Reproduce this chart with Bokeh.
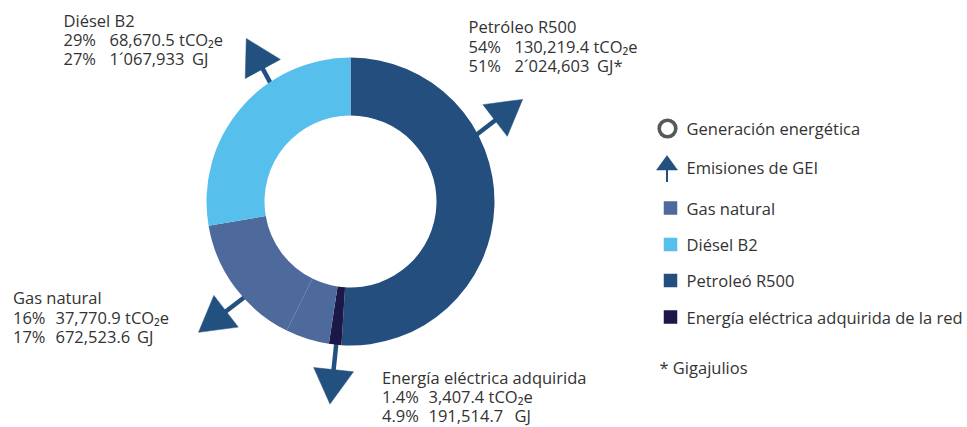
import math
from bokeh.plotting import figure
from bokeh.models import Range1d
from bokeh.core.properties import value
from bokeh.embed import file_html
from bokeh.resources import INLINE

# ---------------- data ----------------
ring_names = ["Petróleo R500", "Energía eléctrica adquirida de la red",
              "Energía eléctrica adquirida (resto)", "Gas natural", "Diésel B2"]
ring_share = [51.0, 1.4, 4.9, 15.0, 27.7]          # % of energy (GJ) around the ring
ring_colors = ["#234e7e", "#1b1848", "#4e699b", "#4e699b", "#56bfec"]

label_names = ["Diésel B2", "Petróleo R500", "Gas natural", "Energía eléctrica adquirida"]
pct_co2 = ["29%", "54%", "16%", "1.4%"]
val_co2 = ["68,670.5", "130,219.4", "37,770.9", "3,407.4"]
pct_gj = ["27%", "51%", "17%", "4.9%"]
val_gj = ["1´067,933", "2´024,603", "672,523.6", "191,514.7"]
gj_unit = ["GJ", "GJ*", "GJ", "GJ"]

legend_labels = ["Generación energética", "Emisiones de GEI", "Gas natural",
                 "Diésel B2", "Petroleó R500", "Energía eléctrica adquirida de la red"]
legend_colors = ["#4e699b", "#56bfec", "#234e7e", "#1b1848"]
footnote = "* Gigajulios"

# ---------------- layout (image pixel coords, y down) ----------------
W, H = 967, 427
def Y(y):
    return H - y

CX, CY = 350, 201
R_OUT, R_IN = 144, 86

# arrows: anchor angle on ring, pointing direction, shaft length (clockwise from top, deg)
arrow_anchor = [326.0, 62.0, 228.0, 185.7]
arrow_dir = [331.5, 52.5, 232.5, 186.0]
arrow_shaft = [15.0, 22.0, 22.0, 25.0]
HEAD = 40.0

label_x = [63, 468, 12.5, 381.5]
label_y0 = [19.5, 26, 297, 376.5]
label_dy = [19.0, 19.5, 19.5, 19.25]
col_off = [46, 46, 42.5, 46.5]
gj_off = [128.5, 128.5, 124, 132.5]

ARROW_C = "#22507f"
TEXT_C = "#333333"
FONT = value("Open Sans")
FS = "16.5px"

p = figure(width=W, height=H, output_backend="svg", toolbar_location=None,
           x_range=Range1d(0, W), y_range=Range1d(0, H),
           min_border=0, outline_line_color=None)
p.axis.visible = False
p.grid.visible = False
p.background_fill_color = "white"
p.border_fill_color = "white"

# ---- arrows (drawn under the ring) ----
sx0, sy0, sx1, sy1 = [], [], [], []
px, py = [], []
for a, d, L in zip(arrow_anchor, arrow_dir, arrow_shaft):
    ta, td = math.radians(a), math.radians(d)
    ax_, ay_ = CX + R_OUT * math.sin(ta), CY - R_OUT * math.cos(ta)
    dx, dy = math.sin(td), -math.cos(td)
    bx, by = ax_ + L * dx, ay_ + L * dy
    h = HEAD * math.sqrt(3) / 2
    tx, ty = bx + h * dx, by + h * dy
    nx, ny = -dy, dx
    sx0.append(ax_ - 6 * dx); sy0.append(Y(ay_ - 6 * dy))
    sx1.append(bx + 4 * dx); sy1.append(Y(by + 4 * dy))
    px.append([bx + HEAD / 2 * nx, tx, bx - HEAD / 2 * nx])
    py.append([Y(by + HEAD / 2 * ny), Y(ty), Y(by - HEAD / 2 * ny)])
p.segment(sx0, sy0, sx1, sy1, line_color=ARROW_C, line_width=4.5)
p.patches(px, py, fill_color=ARROW_C, line_color=ARROW_C, line_width=0.5)

# ---- donut ring ----
total = sum(ring_share)
starts, ends = [], []
acc = 0.0
for s in ring_share:
    th0 = acc / total * 360
    acc += s
    th1 = acc / total * 360
    starts.append(math.radians(90 - th0))
    ends.append(math.radians(90 - th1))
p.annular_wedge(x=[CX] * len(ring_share), y=[Y(CY)] * len(ring_share),
                inner_radius=R_IN, outer_radius=R_OUT,
                start_angle=starts, end_angle=ends,
                direction="clock", fill_color=ring_colors, line_color=None)

# ---- data labels ----
def txt(xs, ys, texts):
    p.text(x=xs, y=[Y(v) for v in ys], text=texts,
           text_font=FONT, text_font_size=FS, text_color=TEXT_C,
           text_baseline="middle", text_align="left")

for i in range(len(label_names)):
    x0 = label_x[i]
    ys = [label_y0[i] + k * label_dy[i] for k in range(3)]
    txt([x0, x0, x0], ys, [label_names[i], pct_co2[i], pct_gj[i]])
    txt([x0 + col_off[i]] * 2, ys[1:], [val_co2[i] + " tCO₂e", val_gj[i]])
    txt([x0 + gj_off[i]], [ys[2]], [gj_unit[i]])

# ---- legend ----
LX_ICON, LX_TEXT = 667, 686
leg_y = [128, 166.5, 207.5, 244, 280, 316.5]
p.circle(x=[LX_ICON], y=[Y(leg_y[0])], radius=8.3, fill_color=None,
         line_color="#58585a", line_width=3.6)
p.segment([LX_ICON - 0.5], [Y(leg_y[1] + 2)], [LX_ICON - 0.5], [Y(leg_y[1] + 15)],
          line_color=ARROW_C, line_width=2)
p.patches([[LX_ICON - 11, LX_ICON - 0.5, LX_ICON + 10]],
          [[Y(leg_y[1] + 3), Y(leg_y[1] - 11.5), Y(leg_y[1] + 3)]],
          fill_color=ARROW_C, line_color=ARROW_C, line_width=0.5)
p.rect(x=[670] * 4, y=[Y(v) for v in leg_y[2:]], width=13.5, height=13.5,
       fill_color=legend_colors, line_color=None)
txt([LX_TEXT] * len(legend_labels), leg_y, legend_labels)
txt([659], [366.5], [footnote])

open("out.html", "w").write(file_html(p, INLINE))
